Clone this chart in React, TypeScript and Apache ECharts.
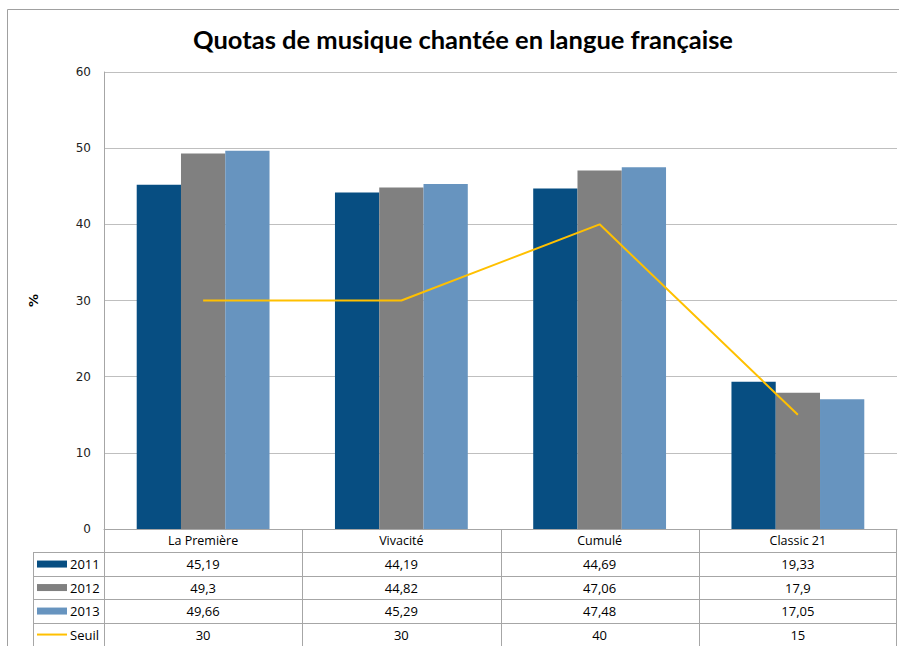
import React, { useEffect, useRef } from "react";
import * as echarts from "echarts";

const titleText = "Quotas de musique chantée en langue française";
const categories = ["La Première", "Vivacité", "Cumulé", "Classic 21"];
const seriesNames = ["2011", "2012", "2013", "Seuil"];
const s2011 = [45.19, 44.19, 44.69, 19.33];
const s2012 = [49.3, 44.82, 47.06, 17.9];
const s2013 = [49.66, 45.29, 47.48, 17.05];
const seuil = [30, 30, 40, 15];
const yMin = 0;
const yMax = 60;
const yInterval = 10;

const colors = ["#074E82", "#808080", "#6794BF", "#FFC000"];
const tableLine = "#A6A6A6";
const fmt = (v: number) => String(v).replace(".", ",");

export default function App() {
  const ref = useRef<HTMLDivElement>(null);
  useEffect(() => {
    if (!ref.current) return;
    const chart = echarts.init(ref.current, undefined, { renderer: "svg" });
    const allSeries = [s2011, s2012, s2013, seuil];
    chart.setOption({
      animation: false,
      backgroundColor: "#ffffff",
      title: {
        text: titleText,
        left: 458,
        top: 21,
        textAlign: "center",
        textStyle: { fontFamily: "Lato", fontWeight: "bold", fontSize: 25.5, color: "#000" },
      },
      grid: { left: 104, right: 2, top: 72, bottom: 117 },
      xAxis: {
        type: "category",
        data: categories,
        axisLine: { show: true, lineStyle: { color: tableLine } },
        axisTick: { show: false },
        axisLabel: { margin: 5, fontFamily: "Open Sans", fontSize: 12.5, color: "#000" },
      },
      yAxis: {
        type: "value",
        min: yMin,
        max: yMax,
        interval: yInterval,
        name: "%",
        nameLocation: "middle",
        nameRotate: 90,
        nameGap: 64,
        nameTextStyle: { fontFamily: "DejaVu Sans", fontSize: 13, fontWeight: "bold", color: "#000" },
        axisLine: { show: true, lineStyle: { color: tableLine } },
        axisTick: { show: false },
        axisLabel: { margin: 13, fontFamily: "DejaVu Sans", fontSize: 12, color: "#222" },
        splitLine: { lineStyle: { color: "#BFBFBF" } },
      },
      series: [
        { name: seriesNames[0], type: "bar", data: s2011, barGap: "0%", barCategoryGap: "33%", itemStyle: { color: colors[0] } },
        { name: seriesNames[1], type: "bar", data: s2012, barGap: "0%", barCategoryGap: "33%", itemStyle: { color: colors[1] } },
        { name: seriesNames[2], type: "bar", data: s2013, barGap: "0%", barCategoryGap: "33%", itemStyle: { color: colors[2] } },
        {
          name: seriesNames[3],
          type: "line",
          data: seuil,
          symbol: "none",
          z: 5,
          lineStyle: { color: colors[3], width: 2 },
        },
      ],
    });

    const x0 = chart.convertToPixel({ xAxisIndex: 0 }, 0) as number;
    const x1 = chart.convertToPixel({ xAxisIndex: 0 }, 1) as number;
    const cw = x1 - x0;
    const left = x0 - cw / 2;
    const right = left + cw * categories.length;
    const yBase = chart.convertToPixel({ yAxisIndex: 0 }, 0) as number;
    const headerH = 23.3;
    const rowH = 23.5;
    const legLeft = left - 71;
    const lineStyle = { stroke: tableLine, lineWidth: 1 };
    const crisp = (v: number) => Math.round(v) + 0.5;
    const graphics: any[] = [
      {
        type: "rect",
        shape: { x: 7.5, y: 9.5, width: 1000, height: 1000 },
        style: { fill: "none", stroke: "#A0A0A0", lineWidth: 1 },
        silent: true,
        z: 0,
      },
    ];
    const nRows = seriesNames.length;
    for (let i = 0; i < nRows; i++) {
      const top = yBase + headerH + i * rowH;
      graphics.push({
        type: "line",
        shape: { x1: legLeft, y1: crisp(top), x2: right, y2: crisp(top) },
        style: lineStyle,
      });
      const cy = top + rowH / 2;
      if (i < 3) {
        graphics.push({
          type: "rect",
          shape: { x: legLeft + 4, y: cy - 3.5, width: 30, height: 7 },
          style: { fill: colors[i] },
        });
      } else {
        graphics.push({
          type: "line",
          shape: { x1: legLeft + 4, y1: cy, x2: legLeft + 34, y2: cy },
          style: { stroke: colors[i], lineWidth: 2 },
        });
      }
      graphics.push({
        type: "text",
        x: legLeft + 37,
        y: cy,
        style: {
          text: seriesNames[i],
          fontFamily: "Open Sans",
          fontSize: 13,
          fill: "#000",
          verticalAlign: "middle",
          align: "left",
        },
      });
      for (let j = 0; j < categories.length; j++) {
        const cx = chart.convertToPixel({ xAxisIndex: 0 }, j) as number;
        graphics.push({
          type: "text",
          x: cx,
          y: cy,
          style: {
            text: fmt(allSeries[i][j]),
            fontFamily: "Open Sans",
            fontSize: 13,
            fill: "#000",
            verticalAlign: "middle",
            align: "center",
          },
        });
      }
    }
    const tableTop = yBase + headerH;
    const tableBottom = 700;
    graphics.push({
      type: "line",
      shape: { x1: crisp(legLeft), y1: tableTop, x2: crisp(legLeft), y2: tableBottom },
      style: lineStyle,
    });
    for (let j = 0; j <= categories.length; j++) {
      const xv = crisp(left + j * cw) - (j === categories.length ? 1 : 0);
      graphics.push({
        type: "line",
        shape: { x1: xv, y1: yBase, x2: xv, y2: tableBottom },
        style: lineStyle,
      });
    }
    chart.setOption({ graphic: graphics });

    return () => chart.dispose();
  }, []);
  return (
    <div
      ref={ref}
      style={{ position: "absolute", left: 0, top: 0, width: 899, height: 646 }}
    />
  );
}
